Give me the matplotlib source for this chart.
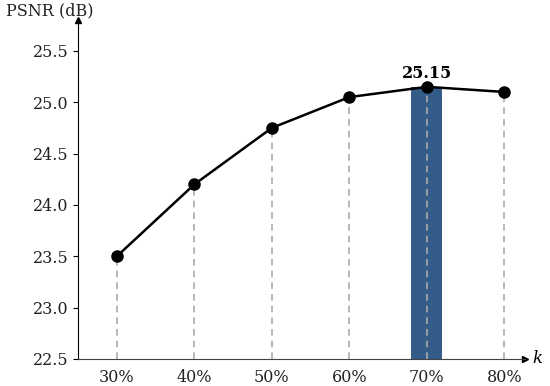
import numpy as np
import matplotlib.pyplot as plt

plt.rcParams['font.family'] = 'serif'
plt.rcParams['font.serif'] = ['DejaVu Serif', 'Liberation Serif']

labels = ['30%', '40%', '50%', '60%', '70%', '80%']
psnr = [23.5, 24.2, 24.75, 25.05, 25.15, 25.1]
best = 4

x = np.arange(len(labels))
fig = plt.figure(figsize=(5.5, 3.86), dpi=100)
ax = fig.add_axes([0.142, 0.070, 0.813, 0.878])

ax.bar(x[best], psnr[best] - 22.5, bottom=22.5, width=0.4, color='#335c88', zorder=1)
ax.vlines(x, 22.5, psnr, colors='#aaaaaa', linestyles=(0, (4, 3)), linewidth=1.2, zorder=2)
ax.plot(x, psnr, color='black', linewidth=1.8, marker='o', markersize=8, zorder=3)
ax.text(x[best], psnr[best] + 0.05, '25.15', ha='center', va='bottom',
        fontsize=11.5, fontweight='bold')

ax.set_xlim(-0.5, 5.27)
ax.set_ylim(22.5, 25.8)
ax.set_yticks([22.5, 23.0, 23.5, 24.0, 24.5, 25.0, 25.5])
ax.set_xticks(x)
ax.set_xticklabels(labels)
ax.tick_params(axis='both', labelsize=11.5, labelcolor='#222222')
ax.tick_params(axis='x', length=0, pad=7)
for s in ['top', 'right']:
    ax.spines[s].set_visible(False)
ax.spines['bottom'].set_color('#444444')

ax.plot(1, 22.5, '>', color='black', markersize=4, transform=ax.get_yaxis_transform(), clip_on=False)
ax.plot(-0.5, 1, '^', color='black', markersize=4, transform=ax.get_xaxis_transform(), clip_on=False)
ax.text(1.015, 0, 'k', transform=ax.transAxes, fontsize=12, style='italic', va='center', ha='left')
fig.text(0.01, 0.972, 'PSNR (dB)', fontsize=11.5, va='center', ha='left', color='#222222')

fig.savefig('out.png', dpi=100)
